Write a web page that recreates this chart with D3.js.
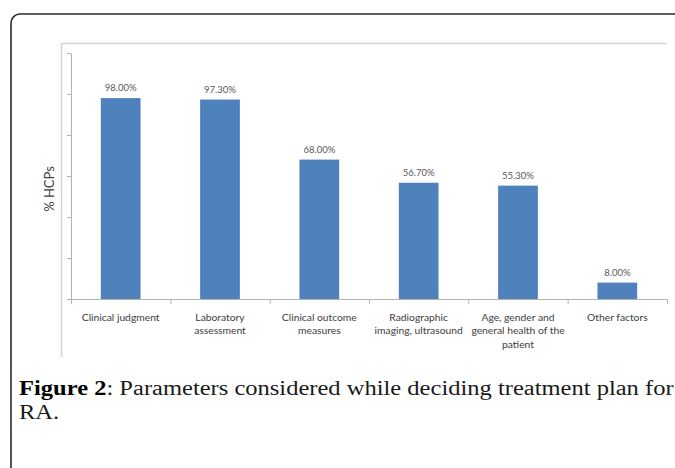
<!DOCTYPE html>
<html>
<head>
<meta charset="utf-8">
<script src="https://cdn.jsdelivr.net/npm/d3@7"></script>
<style>
  html, body { margin: 0; padding: 0; background: #fff; }
  svg { display: block; }
</style>
</head>
<body>
<div id="chart"></div>
<script>
// Parameters considered while deciding treatment plan
const categories = [
    'Clinical judgment',
    'Laboratory assessment',
    'Clinical outcome measures',
    'Radiographic imaging, ultrasound',
    'Age, gender and general health of the patient',
    'Other factors'
];
// wrapped lines for the axis labels
const categoryLines = [
    ['Clinical judgment'],
    ['Laboratory', 'assessment'],
    ['Clinical outcome', 'measures'],
    ['Radiographic', 'imaging, ultrasound'],
    ['Age, gender and', 'general health of the', 'patient'],
    ['Other factors']
];
const percentHCPs = [98.0, 97.3, 68.0, 56.7, 55.3, 8.0];
const yTicks = [0, 20, 40, 60, 80, 100, 120];

const W = 675, H = 468;
const svg = d3.select('#chart').append('svg')
    .attr('width', W)
    .attr('height', H);

// page frame (rounded box running off the page)
svg.append('rect')
    .attr('x', 11).attr('y', 14)
    .attr('width', 720).attr('height', 520)
    .attr('rx', 9)
    .attr('fill', 'none')
    .attr('stroke', '#2b2b2b')
    .attr('stroke-width', 1.6);

// image frame: top and left edges only
svg.append('line')
    .attr('x1', 61).attr('y1', 43.5).attr('x2', 667).attr('y2', 43.5)
    .attr('stroke', '#d4d4d4').attr('stroke-width', 1.5);
svg.append('line')
    .attr('x1', 61.5).attr('y1', 43).attr('x2', 61.5).attr('y2', 357)
    .attr('stroke', '#d4d4d4').attr('stroke-width', 1.5);

const x = d3.scaleBand()
    .domain(categories)
    .range([71, 667])
    .paddingInner(0.6)
    .paddingOuter(0.3);

const y = d3.scaleLinear()
    .domain([0, 120])
    .range([299, 53]);

const axisColor = '#b3b3b3';

// y axis, no labels
const yAxis = svg.append('g')
    .attr('transform', 'translate(71,0)')
    .call(d3.axisLeft(y).tickValues(yTicks).tickSize(4).tickSizeOuter(0).tickFormat(''));
yAxis.selectAll('path, line').attr('stroke', axisColor);

// bars
svg.selectAll('rect.bar')
    .data(percentHCPs)
    .join('rect')
    .attr('class', 'bar')
    .attr('x', (d, i) => x(categories[i]))
    .attr('y', d => y(d))
    .attr('width', x.bandwidth())
    .attr('height', d => y(0) - y(d))
    .attr('fill', '#4f81bd');

// x axis line with ticks between categories
const step = x.step();
const x0 = x.range()[0];
svg.append('line')
    .attr('x1', x0).attr('x2', x.range()[1])
    .attr('y1', y(0) + 0.5).attr('y2', y(0) + 0.5)
    .attr('stroke', axisColor);
d3.range(categories.length + 1).forEach(i => {
    svg.append('line')
        .attr('x1', x0 + i * step + 0.5).attr('x2', x0 + i * step + 0.5)
        .attr('y1', y(0)).attr('y2', y(0) + 5)
        .attr('stroke', axisColor);
});

// value labels
svg.selectAll('text.val')
    .data(percentHCPs)
    .join('text')
    .attr('class', 'val')
    .attr('x', (d, i) => x(categories[i]) + x.bandwidth() / 2)
    .attr('y', d => y(d) - 7)
    .attr('text-anchor', 'middle')
    .attr('font-family', 'Lato, sans-serif')
    .attr('font-size', 9.5)
    .attr('fill', '#595959')
    .text(d => d.toFixed(2) + '%');

// category labels
categoryLines.forEach((lines, i) => {
    const t = svg.append('text')
        .attr('text-anchor', 'middle')
        .attr('font-family', 'Lato, sans-serif')
        .attr('font-size', 10.3)
        .attr('fill', '#404040');
    lines.forEach((ln, j) => {
        t.append('tspan')
            .attr('x', x(categories[i]) + x.bandwidth() / 2)
            .attr('y', 320.5 + j * 13.5)
            .text(ln);
    });
});

// y axis title
svg.append('text')
    .attr('transform', 'translate(54,189) rotate(-90)')
    .attr('text-anchor', 'middle')
    .attr('font-family', 'Lato, sans-serif')
    .attr('font-size', 13)
    .attr('fill', '#404040')
    .text('% HCPs');

// caption - the source face is wider than Times, so stretch it horizontally
const capFont = '"Liberation Serif", serif';
const capG = svg.append('g');
const cap = capG.append('text')
    .attr('x', 0)
    .attr('y', 395)
    .attr('font-family', capFont)
    .attr('font-size', 20.5)
    .attr('fill', '#1a1a1a');
cap.append('tspan').attr('font-weight', 'bold').attr('fill', '#000').text('Figure 2');
cap.append('tspan').text(': Parameters considered while deciding treatment plan for');
capG.append('text')
    .attr('x', 0)
    .attr('y', 419)
    .attr('font-family', capFont)
    .attr('font-size', 20.5)
    .attr('fill', '#1a1a1a')
    .text('RA.');
const capLen = cap.node().getComputedTextLength();
capG.attr('transform', `translate(19,0) scale(${655 / capLen},1)`);
</script>
</body>
</html>
